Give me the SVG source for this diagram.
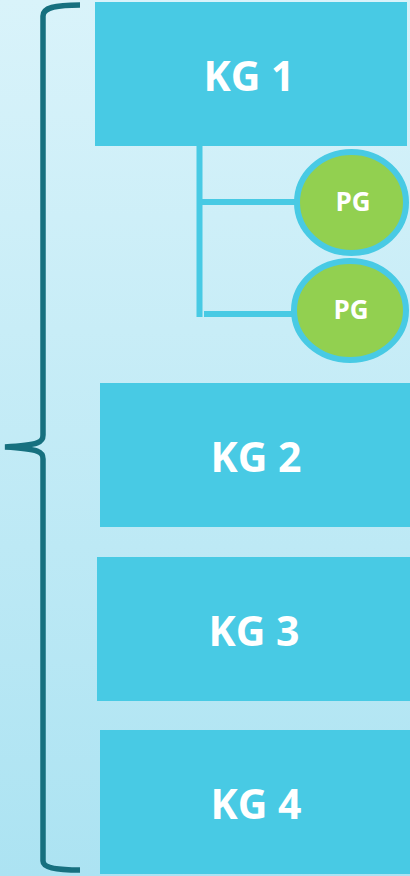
<svg xmlns="http://www.w3.org/2000/svg" width="410" height="876" viewBox="0 0 410 876">
<defs>
<linearGradient id="bg" x1="0" y1="0" x2="0" y2="1">
<stop offset="0" stop-color="#D9F3FA"/>
<stop offset="1" stop-color="#ACE3F2"/>
</linearGradient>
<style>
.box{fill:#48CAE4;}
.kg{font-family:"Open Sans","Noto Sans",sans-serif;font-weight:bold;font-size:41px;fill:#FFFFFF;text-anchor:middle;}
.pg{fill:#92D050;stroke:#48CAE4;stroke-width:6;}
.pgt{font-family:"Open Sans","Noto Sans",sans-serif;font-weight:bold;font-size:26px;fill:#FFFFFF;text-anchor:middle;}
.conn{stroke:#48CAE4;stroke-width:6;fill:none;}
.brace{stroke:#16707F;stroke-width:5.5;fill:none;stroke-linecap:butt;}
</style>
</defs>
<rect x="0" y="0" width="410" height="876" fill="url(#bg)"/>
<path class="brace" d="M80,5 C54,5 43,8 43,16 V435 C43,442 40,445 5,447 C40,449 43,452 43,459 V861 C43,867 54,870 80,870"/>
<g id="connectors">
<line class="conn" x1="199.5" y1="146" x2="199.5" y2="317"/>
<line class="conn" x1="199.5" y1="202" x2="305" y2="202"/>
<line class="conn" x1="204" y1="314" x2="302" y2="314"/>
</g>
<g id="kg1">
<rect class="box" x="95" y="2" width="312" height="144"/>
<text class="kg" x="249" y="91">KG 1</text>
</g>
<g id="pg1">
<ellipse class="pg" cx="351.5" cy="202.5" rx="54.5" ry="50.5"/>
<text class="pgt" x="353" y="211">PG</text>
</g>
<g id="pg2">
<ellipse class="pg" cx="350" cy="310.5" rx="56" ry="49.5"/>
<text class="pgt" x="351" y="319">PG</text>
</g>
<g id="kg2">
<rect class="box" x="100" y="383" width="310" height="144"/>
<text class="kg" x="256" y="472">KG 2</text>
</g>
<g id="kg3">
<rect class="box" x="97" y="557" width="313" height="144"/>
<text class="kg" x="254" y="646">KG 3</text>
</g>
<g id="kg4">
<rect class="box" x="100" y="730" width="310" height="144"/>
<text class="kg" x="256" y="819">KG 4</text>
</g>
</svg>
